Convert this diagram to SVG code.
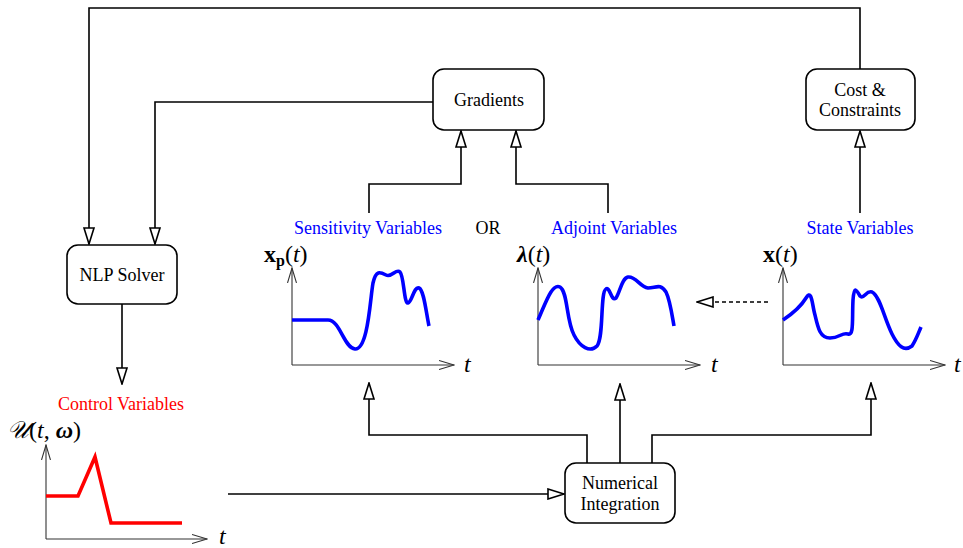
<svg xmlns="http://www.w3.org/2000/svg" width="963" height="548" viewBox="0 0 963 548">
<style>
.box{fill:#fff;stroke:#000;stroke-width:1.6}
.lbl{font-family:"Liberation Serif","Times New Roman",serif;font-size:18px;fill:#000;text-anchor:middle}
.blue{font-family:"Liberation Serif","Times New Roman",serif;font-size:18px;fill:#0000ff;text-anchor:middle}
.red{font-family:"Liberation Serif","Times New Roman",serif;font-size:18px;fill:#ff0000;text-anchor:middle}
.con{fill:none;stroke:#000;stroke-width:1.6}
.axis{fill:none;stroke:#333;stroke-width:1.1}
.math{font-family:"Liberation Serif","Times New Roman",serif;font-size:24px;fill:#000}
.crv{fill:none;stroke:#0000ff;stroke-width:3.6;stroke-linejoin:round;stroke-linecap:butt}
</style>
<defs>
<marker id="tri" viewBox="0 0 18 12" refX="17" refY="6" markerWidth="18" markerHeight="12" markerUnits="userSpaceOnUse" orient="auto">
<path d="M1,1 L17,6 L1,11 Z" fill="#fff" stroke="#000" stroke-width="1.6"/>
</marker>
<marker id="ax" viewBox="0 0 16 10" refX="15" refY="5" markerWidth="16" markerHeight="10" markerUnits="userSpaceOnUse" orient="auto">
<path d="M0,0.5 L15,5 L0,9.5" fill="none" stroke="#333" stroke-width="1.1"/>
</marker>
</defs>

<g id="connectors">
<path class="con" d="M860,69 V8 H89 V244" marker-end="url(#tri)"/>
<path class="con" d="M433,102 H155 V244" marker-end="url(#tri)"/>
<path class="con" d="M122,304 V384" marker-end="url(#tri)"/>
<path class="con" d="M369,213 V184 H461 V131" marker-end="url(#tri)"/>
<path class="con" d="M608,213 V184 H516 V131" marker-end="url(#tri)"/>
<path class="con" d="M860,213 V131" marker-end="url(#tri)"/>
<path class="con" d="M587,463 V435 H369 V383" marker-end="url(#tri)"/>
<path class="con" d="M620,463 V384" marker-end="url(#tri)"/>
<path class="con" d="M652,463 V435 H871 V383" marker-end="url(#tri)"/>
<path class="con" d="M228,494 H564" marker-end="url(#tri)"/>
<path class="con" d="M768,302 H697" stroke-dasharray="4,3" marker-end="url(#tri)"/>
</g>

<g id="nlp">
<rect class="box" x="67" y="245" width="110" height="59" rx="11"/>
<text class="lbl" x="122" y="281">NLP Solver</text>
</g>
<g id="gradients">
<rect class="box" x="433" y="69" width="111" height="61" rx="11"/>
<text class="lbl" x="489" y="106">Gradients</text>
</g>
<g id="cost">
<rect class="box" x="806" y="69" width="109" height="61" rx="11"/>
<text class="lbl" x="860" y="96">Cost &amp;</text>
<text class="lbl" x="860" y="116">Constraints</text>
</g>
<g id="integration">
<rect class="box" x="565" y="463" width="110" height="60" rx="11"/>
<text class="lbl" x="620" y="489">Numerical</text>
<text class="lbl" x="620" y="510">Integration</text>
</g>

<g id="labels">
<text class="blue" x="368" y="234">Sensitivity Variables</text>
<text class="lbl" x="488" y="234">OR</text>
<text class="blue" x="614" y="234">Adjoint Variables</text>
<text class="blue" x="860" y="234">State Variables</text>
<text class="red" x="121" y="410">Control Variables</text>
</g>

<g id="plot-sensitivity">
<path class="axis" d="M292,365 V268" marker-end="url(#ax)"/>
<path class="axis" d="M292,365 H454" marker-end="url(#ax)"/>
<text class="math" x="264" y="262"><tspan font-weight="bold">x</tspan><tspan font-weight="bold" font-size="16" dy="4">p</tspan><tspan dy="-4">(</tspan><tspan font-style="italic">t</tspan>)</text>
<text class="math" x="464" y="372" font-style="italic">t</text>
<path class="crv" d="M292,320 L328,320 C340,320 344,348 355,349 C368,350 370,300 373,283 C376,270 380,272 386,275 C392,278 396,268 400,272 C404,276 404,304 408,303 C412,302 414,286 419,288 C424,290 426,312 429,326"/>
</g>

<g id="plot-adjoint">
<path class="axis" d="M538,365 V268" marker-end="url(#ax)"/>
<path class="axis" d="M538,365 H700" marker-end="url(#ax)"/>
<text class="math" x="517" y="262"><tspan font-weight="bold" font-style="italic">λ</tspan>(<tspan font-style="italic">t</tspan>)</text>
<text class="math" x="711" y="372" font-style="italic">t</text>
<path class="crv" d="M538,320 C546,302 552,283 560,287 C568,292 566,320 574,335 C580,347 590,353 597,346 C604,338 600,292 606,289 C610,286 611,302 616,298 C620,292 622,278 628,277 C636,276 640,287 648,288 C656,288 660,283 666,292 C670,300 672,315 674,326"/>
</g>

<g id="plot-state">
<path class="axis" d="M783,365 V268" marker-end="url(#ax)"/>
<path class="axis" d="M783,365 H945" marker-end="url(#ax)"/>
<text class="math" x="763" y="262"><tspan font-weight="bold">x</tspan>(<tspan font-style="italic">t</tspan>)</text>
<text class="math" x="954" y="372" font-style="italic">t</text>
<path class="crv" d="M783,320 C792,314 800,308 806,298 C812,288 812,305 815,315 C818,328 820,338 830,338 C840,338 842,332 848,334 C854,336 852,320 853,300 C854,286 856,289 860,296 C864,300 866,290 872,292 C880,296 884,318 892,334 C898,346 904,352 912,346 C916,340 918,334 921,327"/>
</g>

<g id="plot-control">
<path class="axis" d="M46,539 V445" marker-end="url(#ax)"/>
<path class="axis" d="M46,539 H207" marker-end="url(#ax)"/>
<text class="math" x="7" y="438"><tspan font-style="italic">𝒰</tspan>(<tspan font-style="italic">t</tspan>, <tspan font-weight="bold" font-style="italic">ω</tspan>)</text>
<text class="math" x="219" y="544" font-style="italic">t</text>
<path fill="none" stroke="#ff0000" stroke-width="3.6" stroke-linejoin="miter" d="M46,496 L78,496 L95,457 L111,523 L182,523"/>
</g>
</svg>
